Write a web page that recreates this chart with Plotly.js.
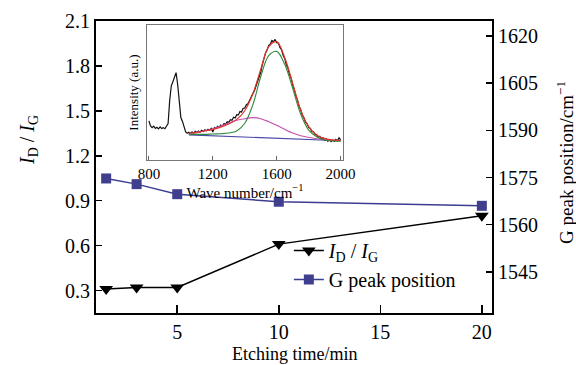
<!DOCTYPE html>
<html>
<head>
<meta charset="utf-8">
<script src="https://cdn.plot.ly/plotly-3.0.1.min.js"></script>
<style>
  html, body { margin: 0; padding: 0; background: #fff; }
  #chart { width: 576px; height: 365px; }
</style>
</head>
<body>
<div id="chart"></div>
<script>
// Main panel: etching time vs. I_D/I_G and G peak position
const etchTime = [1.5, 3, 5, 10, 20];
const ratioDG = [0.31, 0.32, 0.32, 0.61, 0.80];
const gPeak = [1574.7, 1572.9, 1569.7, 1567.3, 1566.0];

const xTicks = [5, 10, 15, 20];
const leftTicks = [0.3, 0.6, 0.9, 1.2, 1.5, 1.8, 2.1];
const rightTicks = [1545, 1560, 1575, 1590, 1605, 1620];

// Inset: Raman spectrum (a.u.) and its peak fit
const ramanShift = [
  800, 810, 820, 830, 840, 850, 860, 870, 880, 890,
  900, 910, 920, 930, 940, 950, 960, 970, 980, 990,
  1000, 1010, 1020, 1030, 1040, 1050, 1060, 1070, 1080, 1090,
  1100, 1110, 1120, 1130, 1140, 1150, 1160, 1170, 1180, 1190,
  1200, 1210, 1220, 1230, 1240, 1250, 1260, 1270, 1280, 1290,
  1300, 1310, 1320, 1330, 1340, 1350, 1360, 1370, 1380, 1390,
  1400, 1410, 1420, 1430, 1440, 1450, 1460, 1470, 1480, 1490,
  1500, 1510, 1520, 1530, 1540, 1550, 1560, 1570, 1580, 1590,
  1600, 1610, 1620, 1630, 1640, 1650, 1660, 1670, 1680, 1690,
  1700, 1710, 1720, 1730, 1740, 1750, 1760, 1770, 1780, 1790,
  1800, 1810, 1820, 1830, 1840, 1850, 1860, 1870, 1880, 1890,
  1900, 1910, 1920, 1930, 1940, 1950, 1960, 1970, 1980, 1990,
  2000
];
const ramanIntensity = [
  29.0, 25.2, 24.0, 25.1, 23.4, 24.3, 23.1, 24.6, 23.3, 24.0,
  23.2, 25.0, 27.0, 44.0, 55.0, 58.0, 61.0, 64.8, 56.0, 42.0,
  31.5, 28.6, 24.0, 20.8, 19.8, 20.6, 19.5, 20.8, 19.9, 21.2,
  20.3, 21.4, 20.6, 22.0, 21.2, 22.4, 21.6, 22.8, 22.1, 23.4,
  20.8, 24.1, 23.5, 25.0, 24.3, 25.9, 25.1, 27.0, 26.4, 28.3,
  27.9, 29.9, 29.5, 31.7, 31.2, 33.6, 33.4, 35.9, 35.6, 38.3,
  38.5, 41.0, 41.6, 44.4, 46.0, 49.0, 51.2, 54.9, 57.2, 61.5,
  65.0, 70.6, 75.0, 79.4, 81.6, 84.9, 85.8, 88.6, 87.6, 89.4,
  86.9, 86.8, 83.5, 81.8, 77.6, 75.3, 70.6, 68.2, 63.5, 60.8,
  55.5, 52.3, 47.4, 44.6, 39.6, 37.4, 33.2, 31.4, 28.0, 26.9,
  24.2, 23.4, 21.2, 20.9, 19.0, 18.8, 16.9, 17.6, 15.4, 16.5,
  14.5, 15.6, 13.9, 15.1, 13.6, 14.9, 13.8, 15.3, 14.2, 16.4,
  15.0
];

const fitShift = [1050, 1100, 1150, 1200, 1250, 1300, 1350, 1400, 1450, 1500,
                  1550, 1600, 1650, 1700, 1750, 1800, 1850, 1900, 1950, 2000];
const fitBaseline = [18.6, 18.4, 18.2, 17.9, 17.7, 17.5, 17.3, 17.0, 16.8, 16.6,
                     16.4, 16.2, 15.9, 15.7, 15.5, 15.3, 15.0, 14.8, 14.6, 14.3];
const fitDBand = [19.5, 20.5, 21.7, 23.2, 25.2, 27.4, 29.4, 30.6, 31.4, 30.6,
                  28.4, 25.7, 22.7, 20.0, 18.0, 16.8, 15.8, 15.3, 14.8, 14.3];
const fitGBand = [19.0, 19.0, 19.0, 19.3, 19.5, 20.0, 21.5, 27.2, 40.7, 61.7,
                  77.3, 80.5, 70.9, 53.1, 34.1, 22.2, 17.3, 14.8, 14.2, 14.0];
const fitSum = [19.8, 20.5, 21.5, 22.7, 24.4, 26.7, 30.1, 36.5, 48.9, 67.2,
                84.0, 87.7, 76.0, 56.8, 37.0, 24.7, 18.5, 15.8, 14.8, 14.3];

const serif = 'Liberation Serif, Times New Roman, serif';

const traces = [
  {
    x: etchTime, y: ratioDG, xaxis: 'x', yaxis: 'y',
    type: 'scatter', mode: 'lines+markers',
    name: '<i>I</i><sub>D</sub> / <i>I</i><sub>G</sub>',
    line: { color: '#000000', width: 1.5 },
    marker: { symbol: 'triangle-down', size: 12, color: '#000000' }
  },
  {
    x: etchTime, y: gPeak, xaxis: 'x', yaxis: 'y2',
    type: 'scatter', mode: 'lines+markers',
    name: 'G peak position',
    line: { color: '#3c3c90', width: 1.5 },
    marker: { symbol: 'square', size: 10, color: '#3f3f8e' }
  },
  {
    x: ramanShift, y: ramanIntensity, xaxis: 'x2', yaxis: 'y3',
    type: 'scatter', mode: 'lines', showlegend: false,
    line: { color: '#111111', width: 1.2 }
  },
  {
    x: fitShift, y: fitBaseline, xaxis: 'x2', yaxis: 'y3',
    type: 'scatter', mode: 'lines', showlegend: false,
    line: { color: '#4a48a8', width: 1.1 }
  },
  {
    x: fitShift, y: fitDBand, xaxis: 'x2', yaxis: 'y3',
    type: 'scatter', mode: 'lines', showlegend: false,
    line: { color: '#c44fb0', width: 1.1, shape: 'spline' }
  },
  {
    x: fitShift, y: fitGBand, xaxis: 'x2', yaxis: 'y3',
    type: 'scatter', mode: 'lines', showlegend: false,
    line: { color: '#2f8a3a', width: 1.1, shape: 'spline' }
  },
  {
    x: fitShift, y: fitSum, xaxis: 'x2', yaxis: 'y3',
    type: 'scatter', mode: 'lines', showlegend: false,
    line: { color: '#e2352b', width: 1.2, shape: 'spline' }
  }
];

const layout = {
  width: 576, height: 365,
  margin: { l: 96, r: 84, t: 21, b: 52 },
  paper_bgcolor: '#ffffff', plot_bgcolor: '#ffffff',
  font: { family: serif, color: '#000000', size: 20 },
  showlegend: true,
  legend: {
    x: 0.487, y: 0.281, xanchor: 'left', yanchor: 'top',
    bgcolor: 'rgba(0,0,0,0)', borderwidth: 0,
    font: { family: serif, size: 20 },
    itemwidth: 30, tracegroupgap: 0
  },
  xaxis: {
    domain: [0, 1], range: [1, 20.5],
    tickvals: xTicks, ticks: 'inside', ticklen: 8, tickwidth: 1.5, tickcolor: '#000',
    showline: true, linecolor: '#000', linewidth: 2, mirror: true,
    showgrid: false, zeroline: false,
    tickfont: { size: 20 }
  },
  yaxis: {
    domain: [0, 1], range: [0.15, 2.1],
    tickvals: leftTicks, ticks: 'inside', ticklen: 6, tickwidth: 1.5, tickcolor: '#000',
    showline: true, linecolor: '#000', linewidth: 2, mirror: true,
    showgrid: false, zeroline: false,
    tickfont: { size: 20 }
  },
  yaxis2: {
    overlaying: 'y', side: 'right', anchor: 'x', range: [1531.9, 1624.8],
    tickvals: rightTicks, ticks: 'inside', ticklen: 6, tickwidth: 1.5, tickcolor: '#000',
    showline: true, linecolor: '#000', linewidth: 2,
    showgrid: false, zeroline: false,
    tickfont: { size: 20 }
  },
  xaxis2: {
    anchor: 'y3', domain: [0.130, 0.6225], range: [791, 2012],
    tickvals: [800, 1200, 1600, 2000], ticks: 'inside', ticklen: 4, tickwidth: 1, tickcolor: '#666',
    showline: true, linecolor: '#777', linewidth: 1.5, mirror: true,
    showgrid: false, zeroline: false,
    tickfont: { size: 15 },
    title: { text: 'Wave number/cm<sup>−1</sup>', font: { size: 15 }, standoff: 1 }
  },
  yaxis3: {
    anchor: 'x2', domain: [0.524, 0.986], range: [0, 100],
    showticklabels: false, ticks: '',
    showline: true, linecolor: '#777', linewidth: 1.5, mirror: true,
    showgrid: false, zeroline: false,
    title: { text: 'Intensity (a.u.)', font: { size: 13 }, standoff: 4 }
  },
  annotations: [
    {
      // x-axis title, set low so it sits clear of the tick labels
      xref: 'paper', yref: 'paper', x: 0.5, y: -0.140,
      xanchor: 'center', yanchor: 'middle', showarrow: false,
      text: 'Etching time/min',
      font: { family: serif, size: 18 }
    },
    {
      xref: 'paper', yref: 'paper', x: -0.172, y: 0.592,
      xanchor: 'center', yanchor: 'middle', textangle: -90, showarrow: false,
      text: '<i>I</i><sub>D</sub> / <i>I</i><sub>G</sub>',
      font: { family: serif, size: 20 }
    },
    {
      xref: 'paper', yref: 'paper', x: 1.184, y: 0.517,
      xanchor: 'center', yanchor: 'middle', textangle: -90, showarrow: false,
      text: 'G peak position/cm<sup>−1</sup>',
      font: { family: serif, size: 19 }
    }
  ]
};

Plotly.newPlot('chart', traces, layout, { staticPlot: true, displayModeBar: false });
</script>
</body>
</html>
